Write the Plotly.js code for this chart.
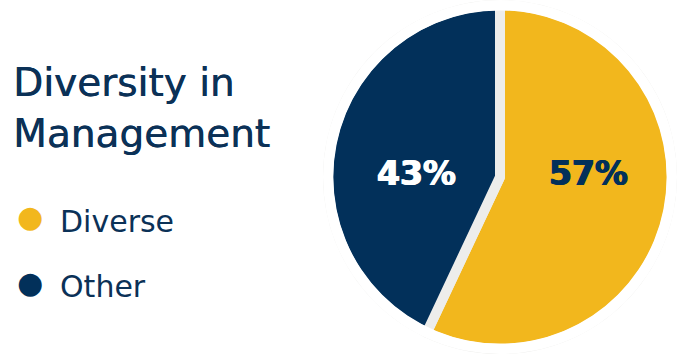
<!DOCTYPE html>
<html><head><meta charset="utf-8">
<script src="https://cdn.plot.ly/plotly-3.0.1.min.js"></script>
<style>html,body{margin:0;padding:0;background:#fff;} #chart{width:677px;height:354px;}</style>
</head><body><div id="chart"></div>
<script>
// ---- data ----
const categories = ['Diverse', 'Other'];
const values = [57, 43];
const chartTitle = 'Diversity in<br>Management';

// ---- styles ----
const sliceColors = ['#F2B71D', '#02305A'];
const labelColors = ['#02305A', '#FFFFFF'];
const navy = '#0B3157';
const gapColor = '#EDEDEB';
const gapWidth = 10;
const W = 677, H = 354;

// pie geometry (pixels)
const cx = 500, cy = 177;
const R = W - cx;                     // cover-ring outer radius
const r = R - gapWidth / 2;           // pie radius (outer stroke ends at R)
const rVisible = r - gapWidth / 2 - 0.4; // stroke also runs inward; ring covers it

const pieTrace = {
  type: 'pie',
  labels: categories,
  values: values,
  sort: false,
  direction: 'clockwise',
  rotation: 0,
  marker: { colors: sliceColors, line: { color: gapColor, width: gapWidth } },
  textinfo: 'none',
  showlegend: false,
  domain: { x: [(cx - r) / W, (cx + r) / W], y: [(H - cy - r) / H, (H - cy + r) / H] }
};

// white ring hiding the outer band of the slice stroke
const coverRing = {
  type: 'pie',
  values: [1],
  labels: ['ring'],
  hole: rVisible / R,
  sort: false,
  marker: { colors: ['#FFFFFF'], line: { width: 0 } },
  textinfo: 'none',
  showlegend: false,
  domain: { x: [(cx - R) / W, 1], y: [(H - cy - R) / H, (H - cy + R) / H] }
};

const labelPos = [[588, 173.5], [416, 173.5]];
const legendPos = [[30, 220], [30, 285]];
const annotations = [];
categories.forEach((c, i) => {
  annotations.push({
    xref: 'paper', yref: 'paper', x: labelPos[i][0] / W, y: 1 - labelPos[i][1] / H,
    xanchor: 'center', yanchor: 'middle', showarrow: false,
    text: '<b>' + values[i] + '%</b>',
    font: { family: 'DejaVu Sans', size: 33, color: labelColors[i],
            shadow: '0.7px 0 0 ' + labelColors[i] + ', -0.7px 0 0 ' + labelColors[i] }
  });
  annotations.push({
    xref: 'paper', yref: 'paper', x: legendPos[i][0] / W, y: 1 - (legendPos[i][1] - 3) / H,
    xanchor: 'center', yanchor: 'middle', showarrow: false,
    text: '●',
    font: { family: 'DejaVu Sans', size: 30, color: sliceColors[i] }
  });
  annotations.push({
    xref: 'paper', yref: 'paper', x: 58 / W, y: 1 - (legendPos[i][1] + 1) / H,
    xanchor: 'left', yanchor: 'middle', showarrow: false,
    text: c,
    font: { family: 'DejaVu Sans', size: 30, color: navy }
  });
});

const layout = {
  width: W, height: H,
  margin: { l: 0, r: 0, t: 0, b: 0 },
  paper_bgcolor: '#FFFFFF',
  plot_bgcolor: '#FFFFFF',
  showlegend: false,
  title: {
    text: chartTitle,
    font: { family: 'DejaVu Sans', size: 39, color: navy,
            shadow: '0.6px 0 0 ' + navy },
    xref: 'paper', x: 13 / W, xanchor: 'left',
    yref: 'container', y: 1 - 96 / H, yanchor: 'middle'
  },
  annotations: annotations
};

Plotly.newPlot('chart', [pieTrace, coverRing], layout, { displayModeBar: false, staticPlot: true });
</script>
</body></html>
